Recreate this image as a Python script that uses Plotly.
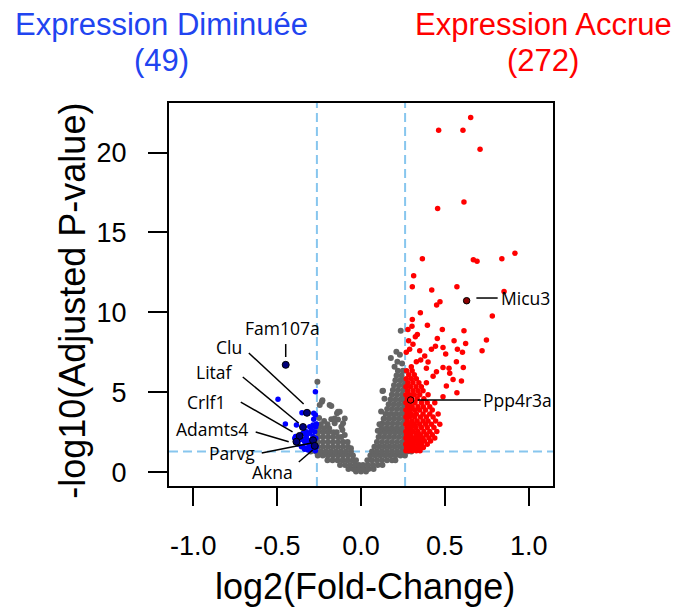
import plotly.graph_objects as go

# ---------------- data ----------------
fc_threshold = 0.263      # log2(1.2)
p_threshold = 1.30        # -log10(0.05)

# non significant genes (gray), listed row by row
gray_rows = {
    0.05: [-0.03, 0.0, 0.03],
    0.2: [-0.075, -0.045, -0.015, 0.015, 0.045, 0.075],
    0.45: [-0.125, -0.095, -0.065, -0.035, -0.012, 0.012, 0.04, 0.07, 0.1, 0.128],
    0.75: [-0.2, -0.17, -0.14, -0.11, -0.08, -0.05, -0.03, 0.038, 0.065, 0.095, 0.125, 0.155, 0.185, 0.205],
    1.05: [-0.258, -0.228, -0.198, -0.168, -0.138, -0.108, -0.078, -0.048,
           0.056, 0.085, 0.115, 0.145, 0.175, 0.205, 0.235, 0.262],
    1.3: [-0.3, -0.27, -0.24, -0.21, -0.18, -0.15, -0.12, -0.09, -0.06,
          0.066, 0.095, 0.125, 0.155, 0.185, 0.215, 0.245, 0.275, 0.3],
    1.6: [-0.258, -0.228, -0.198, -0.168, -0.138, -0.108, -0.078,
          0.08, 0.11, 0.14, 0.17, 0.2, 0.23, 0.256],
    1.9: [-0.256, -0.226, -0.196, -0.166, -0.136, -0.105,
          0.095, 0.125, 0.155, 0.185, 0.215, 0.245, 0.258],
    2.2: [-0.258, -0.228, -0.198, -0.168, -0.138, -0.118,
          0.105, 0.135, 0.165, 0.195, 0.225, 0.255],
    2.5: [-0.255, -0.225, -0.195, -0.165, -0.145,
          0.115, 0.145, 0.175, 0.205, 0.235, 0.258],
    2.75: [-0.25, -0.22, -0.19, 0.122, 0.152, 0.182, 0.212, 0.242],
    3.05: [0.128, 0.158, 0.188, 0.218, 0.248],
    3.35: [0.135, 0.165, 0.195, 0.225, 0.255],
    3.65: [0.146, 0.176, 0.206, 0.236, 0.258],
    3.95: [0.156, 0.186, 0.216, 0.246],
    4.25: [0.165, 0.195, 0.225, 0.255],
    4.55: [0.176, 0.206, 0.236, 0.258],
    4.85: [0.184, 0.214, 0.244],
    5.15: [0.19, 0.22, 0.25],
    5.45: [0.197, 0.227, 0.255],
    5.75: [0.205, 0.235, 0.258],
    6.05: [0.212, 0.242],
    6.35: [0.22, 0.25],
}
gray_scatter_x = [-0.26, -0.233, -0.246, -0.23, -0.187, -0.143, -0.127, -0.177, -0.137, -0.157,
                  -0.107, -0.111, -0.097, -0.2, -0.22, -0.25, -0.24, -0.08, -0.06, -0.177,
                  -0.137, -0.157, -0.097, -0.117,
                  0.128, 0.131, 0.178, 0.211, 0.232, 0.237, 0.217, 0.245, 0.2, 0.14, 0.12, 0.11, 0.1]
gray_scatter_y = [5.66, 4.41, 4.2, 4.5, 4.2, 3.69, 3.79, 3.31, 3.3, 3.06,
                  3.06, 2.64, 2.33, 3.0, 3.2, 3.4, 3.0, 1.9, 1.5, 4.14,
                  3.79, 3.37, 3.37, 2.85,
                  5.08, 5.1, 7.15, 7.54, 7.35, 8.85, 6.91, 6.8, 6.6, 4.6, 3.8, 3.0, 2.6]

# down-regulated genes (blue)
blue_x = [-0.495, -0.272, -0.272, -0.352, -0.282, -0.282, -0.451, -0.385, -0.306, -0.286,
          -0.27, -0.296, -0.326, -0.276, -0.306, -0.346, -0.326, -0.286, -0.27, -0.395,
          -0.39, -0.366, -0.336, -0.316, -0.296, -0.35, -0.32, -0.346, -0.326, -0.306,
          -0.296, -0.276, -0.266, -0.355, -0.376, -0.336, -0.316, -0.286, -0.306, -0.272,
          -0.266, -0.28]
blue_y = [4.56, 5.04, 3.58, 3.73, 3.69, 3.31, 3.02, 2.96, 2.85, 2.96,
          2.85, 2.64, 2.54, 2.54, 2.44, 2.44, 2.23, 2.23, 2.12, 2.12,
          2.23, 2.02, 1.91, 1.81, 2.02, 2.06, 2.02, 1.6, 1.5, 1.6,
          1.44, 1.5, 1.6, 1.6, 1.77, 1.44, 1.39, 1.44, 1.77, 1.35,
          3.02, 2.89]

# up-regulated genes (red): dense block row by row + scattered ones
red_rows = {
    1.35: [0.268, 0.285, 0.305, 0.33, 0.352],
    1.55: [0.272, 0.295, 0.318, 0.345, 0.372],
    1.75: [0.267, 0.288, 0.31, 0.338, 0.36, 0.395],
    1.95: [0.275, 0.3, 0.322, 0.35, 0.378, 0.415],
    2.15: [0.268, 0.29, 0.315, 0.342, 0.37, 0.405, 0.44],
    2.35: [0.272, 0.298, 0.33, 0.356, 0.39, 0.425],
    2.55: [0.268, 0.288, 0.312, 0.34, 0.375, 0.41, 0.452],
    2.8: [0.274, 0.3, 0.328, 0.36, 0.395, 0.435],
    3.0: [0.268, 0.292, 0.318, 0.35, 0.385, 0.42, 0.47],
    3.2: [0.276, 0.305, 0.335, 0.37, 0.4, 0.445],
    3.45: [0.268, 0.29, 0.32, 0.355, 0.39, 0.43],
    3.65: [0.275, 0.3, 0.33, 0.37, 0.41, 0.46],
    3.9: [0.268, 0.292, 0.32, 0.35, 0.385, 0.425],
    4.1: [0.278, 0.305, 0.34, 0.372, 0.41],
    4.35: [0.268, 0.292, 0.322, 0.36, 0.395, 0.44],
    4.6: [0.276, 0.302, 0.335, 0.375],
    4.85: [0.268, 0.29, 0.318, 0.35, 0.4],
    5.1: [0.278, 0.31, 0.34, 0.37],
    5.35: [0.268, 0.295, 0.328, 0.36],
    5.6: [0.28, 0.31, 0.345, 0.39],
    5.85: [0.27, 0.3, 0.33],
    6.1: [0.285, 0.318],
    6.35: [0.272, 0.305],
}
red_scatter_x = [0.654, 0.463, 0.608, 0.71, 0.457, 0.614, 0.366, 0.67, 0.692, 0.84,
                 0.918, 0.314, 0.306, 0.422, 0.572, 0.471, 0.451, 0.853, 0.354, 0.783,
                 0.306, 0.396, 0.304, 0.28, 0.485, 0.614, 0.336, 0.324, 0.284, 0.455,
                 0.555, 0.748, 0.624, 0.444, 0.489, 0.575, 0.722, 0.605, 0.505, 0.38,
                 0.356, 0.569, 0.33, 0.489, 0.525, 0.61, 0.45, 0.529, 0.549, 0.599,
                 0.509, 0.572, 0.489, 0.29, 0.31, 0.27, 0.35, 0.4, 0.42, 0.3, 0.39, 0.43]
red_scatter_y = [22.2, 21.4, 21.4, 20.2, 16.5, 16.9, 13.35, 13.3, 13.2, 13.35,
                 13.7, 12.3, 11.6, 11.4, 11.6, 10.66, 10.46, 11.3, 9.98, 9.77,
                 9.56, 9.2, 9.14, 8.93, 8.93, 8.85, 8.62, 8.48, 8.23, 8.37,
                 8.23, 8.27, 8.06, 7.89, 7.81, 7.69, 7.6, 7.5, 7.39, 7.27,
                 7.02, 6.91, 6.91, 6.56, 6.5, 6.56, 6.29, 6.19, 5.81, 5.71,
                 5.39, 4.98, 4.73, 7.7, 8.0, 7.5, 7.6, 6.9, 7.7, 6.6, 6.5, 6.0]

# highlighted genes
down_genes = ["Fam107a", "Clu", "Litaf", "Crlf1", "Adamts4", "Parvg", "Akna"]
down_genes_x = [-0.449, -0.322, -0.346, -0.366, -0.385, -0.286, -0.276]
down_genes_y = [6.72, 3.72, 2.83, 2.27, 1.91, 2.0, 1.65]
up_genes = ["Micu3", "Ppp4r3a"]
up_genes_x = [0.630, 0.296]
up_genes_y = [10.73, 4.52]

n_down, n_up = 49, 272
x_ticks = [-1.0, -0.5, 0.0, 0.5, 1.0]
x_tick_labels = ["-1.0", "-0.5", "0.0", "0.5", "1.0"]
y_ticks = [0, 5, 10, 15, 20]
y_tick_labels = ["0", "5", "10", "15", "20"]

# label placement (text position, leader segment start / end) in data units
label_pos = {
    "Fam107a": dict(tx=-0.466, ty=9.02, anchor="center", seg=(-0.449, 8.02, -0.449, 7.21)),
    "Clu": dict(tx=-0.788, ty=7.83, anchor="center", seg=(-0.669, 7.46, -0.342, 4.27)),
    "Litaf": dict(tx=-0.872, ty=6.27, anchor="center", seg=(-0.705, 5.96, -0.372, 3.08)),
    "Crlf1": dict(tx=-0.919, ty=4.39, anchor="center", seg=(-0.717, 4.39, -0.408, 2.52)),
    "Adamts4": dict(tx=-0.889, ty=2.71, anchor="center", seg=(-0.628, 2.52, -0.431, 1.91)),
    "Parvg": dict(tx=-0.77, ty=1.21, anchor="center", seg=(-0.592, 1.21, -0.294, 1.83)),
    "Akna": dict(tx=-0.527, ty=0.02, anchor="center", seg=(-0.371, 0.64, -0.288, 1.39)),
    "Micu3": dict(tx=0.822, ty=10.9, anchor="left", seg=(0.688, 10.9, 0.815, 10.9)),
    "Ppp4r3a": dict(tx=0.713, ty=4.52, anchor="left", seg=(0.338, 4.52, 0.714, 4.52)),
}

# ---------------- build ----------------
gx, gy = [], []
for yv, xs in gray_rows.items():
    gx += xs
    gy += [yv] * len(xs)
gx += gray_scatter_x
gy += gray_scatter_y

rx, ry = [], []
for yv, xs in red_rows.items():
    rx += xs
    ry += [yv] * len(xs)
rx += red_scatter_x
ry += red_scatter_y

fig = go.Figure()
fig.add_trace(go.Scatter(x=gx, y=gy, mode="markers",
                         marker=dict(color="#646464", size=6, line=dict(width=0)),
                         hoverinfo="skip", showlegend=False))
fig.add_trace(go.Scatter(x=rx, y=ry, mode="markers",
                         marker=dict(color="#ff0000", size=5.5, line=dict(width=0)),
                         hoverinfo="skip", showlegend=False))
fig.add_trace(go.Scatter(x=blue_x, y=blue_y, mode="markers",
                         marker=dict(color="#0000ff", size=5.5, line=dict(width=0)),
                         hoverinfo="skip", showlegend=False))
fig.add_trace(go.Scatter(x=down_genes_x, y=down_genes_y, mode="markers",
                         marker=dict(color="#00007a", size=7, line=dict(color="black", width=1)),
                         hoverinfo="skip", showlegend=False))
fig.add_trace(go.Scatter(x=up_genes_x, y=up_genes_y, mode="markers",
                         marker=dict(color=["#8b0000", "#ff0000"], size=6.5,
                                     line=dict(color="black", width=1)),
                         hoverinfo="skip", showlegend=False))

# leader segments
sx, sy = [], []
for g in down_genes + up_genes:
    x0, y0, x1, y1 = label_pos[g]["seg"]
    sx += [x0, x1, None]
    sy += [y0, y1, None]
fig.add_trace(go.Scatter(x=sx, y=sy, mode="lines", line=dict(color="black", width=1.5),
                         hoverinfo="skip", showlegend=False))

for g in down_genes + up_genes:
    p = label_pos[g]
    fig.add_annotation(x=p["tx"], y=p["ty"], xref="x", yref="y", text=g, showarrow=False,
                       xanchor=p["anchor"], yanchor="middle",
                       font=dict(family="Open Sans", size=17.5, color="black"))

dash_style = dict(color="#87c6ee", width=2, dash="9px,5px")
for v in (-fc_threshold, fc_threshold):
    fig.add_shape(type="line", xref="x", yref="paper", x0=v, x1=v, y0=0, y1=1,
                  line=dash_style, layer="below")
fig.add_shape(type="line", xref="paper", yref="y", x0=0, x1=1, y0=p_threshold, y1=p_threshold,
              line=dash_style, layer="below")

main_font = "Liberation Sans, Arial"
blue_txt = "#2144f0"
red_txt = "#ff0000"
fig.add_annotation(x=-0.0195, y=1.2053, xref="paper", yref="paper", text="Expression Diminuée",
                   showarrow=False, xanchor="center", yanchor="middle",
                   font=dict(family=main_font, size=31, color=blue_txt))
fig.add_annotation(x=-0.0195, y=1.1114, xref="paper", yref="paper", text=f"({n_down})",
                   showarrow=False, xanchor="center", yanchor="middle",
                   font=dict(family=main_font, size=31, color=blue_txt))
fig.add_annotation(x=0.975, y=1.2053, xref="paper", yref="paper", text="Expression Accrue",
                   showarrow=False, xanchor="center", yanchor="middle",
                   font=dict(family=main_font, size=31, color=red_txt))
fig.add_annotation(x=0.975, y=1.1114, xref="paper", yref="paper", text=f"({n_up})",
                   showarrow=False, xanchor="center", yanchor="middle",
                   font=dict(family=main_font, size=31, color=red_txt))

fig.add_annotation(x=0.51, y=-0.2625, xref="paper", yref="paper", text="log2(Fold-Change)",
                   showarrow=False, xanchor="center", yanchor="middle",
                   font=dict(family=main_font, size=36, color="black"))
fig.add_annotation(x=-0.2534, y=0.4827, xref="paper", yref="paper",
                   text="-log10(Adjusted P-value)", textangle=-90,
                   showarrow=False, xanchor="center", yanchor="middle",
                   font=dict(family=main_font, size=36, color="black"))

fig.update_xaxes(range=[-1.145, 1.145], tickvals=x_ticks, ticktext=x_tick_labels,
                 ticks="outside", ticklen=18, tickwidth=2, tickcolor="black",
                 showline=True, linecolor="black", linewidth=2, mirror=True,
                 showgrid=False, zeroline=False, ticklabelstandoff=17,
                 tickfont=dict(family=main_font, size=27, color="black"))
fig.update_yaxes(range=[-0.86, 23.1], tickvals=y_ticks, ticktext=y_tick_labels,
                 ticks="outside", ticklen=19, tickwidth=2, tickcolor="black",
                 showline=True, linecolor="black", linewidth=2, mirror=True,
                 showgrid=False, zeroline=False, ticklabelstandoff=16,
                 tickfont=dict(family=main_font, size=27, color="black"))

fig.update_layout(width=678, height=608, margin=dict(l=169, r=125, t=103, b=122),
                  plot_bgcolor="white", paper_bgcolor="white", showlegend=False)

fig.write_html("out.html")
